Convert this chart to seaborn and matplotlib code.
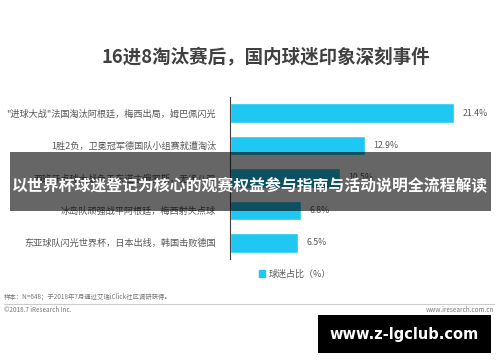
import matplotlib
matplotlib.use('Agg')
import matplotlib.pyplot as plt
from matplotlib.patches import Rectangle, Patch
import seaborn as sns
import pandas as pd

# data
events = [
    '"进球大战"法国淘汰阿根廷，梅西出局，姆巴佩闪光',
    '1胜2负，卫冕冠军德国队小组赛就遭淘汰',
    '西班牙点球大战负于东道主俄罗斯，无缘八强',
    '冰岛队顽强战平阿根廷，梅西射失点球',
    '东亚球队闪光世界杯，日本出线，韩国击败德国',
]
shares = [21.4, 12.9, 10.5, 6.8, 6.5]

title = '16进8淘汰赛后，国内球迷印象深刻事件'
legend_label = '球迷占比（%）'
note = '样本：N=648；于2018年7月通过艾瑞iClick社区调研获得。'
copyright_txt = '©2018.7 iResearch Inc.'
site_txt = 'www.iresearch.com.cn'
banner_txt = '以世界杯球迷登记为核心的观赛权益参与指南与活动说明全流程解读'
watermark = 'www.z-lgclub.com'

sns.set_style('white')
plt.rcParams['font.family'] = ['Noto Sans CJK SC', 'DejaVu Sans']

BLUE = '#1fc8f2'
GREY = '#595959'

df = pd.DataFrame({'event': events, 'share': shares})

W, H = 500, 362
fig = plt.figure(figsize=(W / 100, H / 100), dpi=100)
ax = fig.add_axes([230 / W, 1 - 259 / H, 250 / W, 162 / H])

sns.barplot(data=df, x='share', y='event', orient='h', color=BLUE,
            width=0.6, saturation=1, ax=ax)
ax.set_xlim(0, 250 / 10.47)
ax.set_ylim(4.5, -0.5)
ax.set_xlabel('')
ax.set_ylabel('')
ax.set_xticks([])
ax.tick_params(axis='y', length=0, pad=10, labelsize=6.6, labelcolor=GREY)
for s in ['top', 'right', 'bottom']:
    ax.spines[s].set_visible(False)
ax.spines['left'].set_color('#404040')
ax.spines['left'].set_linewidth(0.8)

for i, v in enumerate(shares):
    ax.text(v + 0.8, i, f'{v}%', va='center', ha='left', fontsize=6.3, color=GREY)

fig.text(266 / W, 1 - 58 / H, title, ha='center', va='center',
         fontsize=13.3, fontweight='bold', color='#404040')

fig.legend(handles=[Patch(color=BLUE, label=legend_label)],
           loc='center', bbox_to_anchor=(295 / W, 1 - 274 / H), frameon=False,
           fontsize=6.5, handlelength=0.7, handleheight=0.7, handletextpad=0.4,
           labelcolor=GREY)

fig.text(4 / W, 1 - 297 / H, note, ha='left', va='center', fontsize=4.6, color='#777777')
fig.add_artist(plt.Line2D([4 / W, 494 / W], [1 - 304 / H, 1 - 304 / H],
                          transform=fig.transFigure, color='#cccccc', lw=0.8))
fig.text(4 / W, 1 - 310 / H, copyright_txt, ha='left', va='center', fontsize=4.6, color='#777777')
fig.text(494 / W, 1 - 310 / H, site_txt, ha='right', va='center', fontsize=4.6, color='#777777')

# overlay banner
fig.add_artist(Rectangle((10 / W, 1 - 211 / H), 481 / W, 59 / H,
                         transform=fig.transFigure, color='black', alpha=0.6, lw=0))
fig.text(250 / W, 1 - 185 / H, banner_txt, ha='center', va='center',
         fontsize=11.4, fontweight='bold', color='white')

# watermark box
fig.add_artist(Rectangle((318 / W, 1 - 353 / H), 173 / W, 38 / H,
                         transform=fig.transFigure, color='black', lw=0))
fig.text(404 / W, 1 - 334 / H, watermark, ha='center', va='center',
         fontsize=10.5, fontweight='bold', color='white', family='DejaVu Sans')

fig.savefig('out.png', dpi=100)
